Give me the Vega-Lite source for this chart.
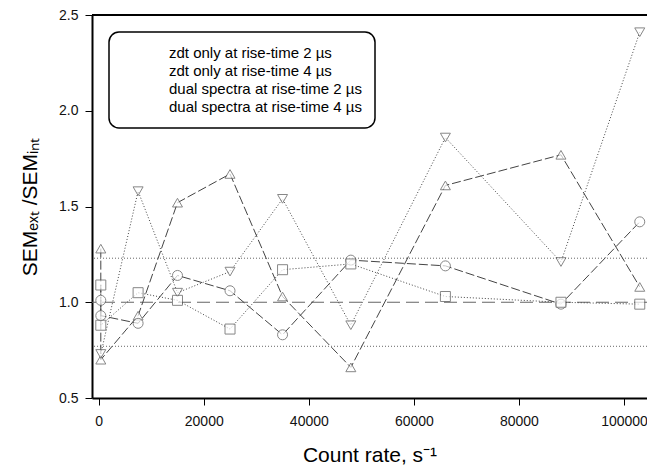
{
  "$schema": "https://vega.github.io/schema/vega-lite/v6.json",
  "width": 555,
  "height": 383,
  "autosize": "none",
  "padding": {"left": 92, "top": 15, "right": 0, "bottom": 75},
  "background": "#ffffff",
  "config": {
    "font": "Liberation Sans",
    "view": {"stroke": null},
    "legend": {"strokeWidth": 1.5},
    "axis": {
      "grid": false,
      "domainColor": "#000",
      "domainWidth": 2,
      "tickColor": "#000",
      "tickWidth": 1,
      "labelFont": "Liberation Sans",
      "labelFontSize": 14,
      "labelColor": "#111",
      "titleFont": "Liberation Sans",
      "titleFontSize": 21,
      "titleFontWeight": "normal",
      "titleColor": "#000"
    }
  },
  "datasets": {
    "series": [
      {"series": "zdt only at rise-time 2 µs", "i": 0, "rate": 400, "ratio": 1.28},
      {"series": "zdt only at rise-time 2 µs", "i": 1, "rate": 400, "ratio": 0.70},
      {"series": "zdt only at rise-time 2 µs", "i": 2, "rate": 7500, "ratio": 0.93},
      {"series": "zdt only at rise-time 2 µs", "i": 3, "rate": 15000, "ratio": 1.52},
      {"series": "zdt only at rise-time 2 µs", "i": 4, "rate": 25000, "ratio": 1.67},
      {"series": "zdt only at rise-time 2 µs", "i": 5, "rate": 35000, "ratio": 1.03},
      {"series": "zdt only at rise-time 2 µs", "i": 6, "rate": 48000, "ratio": 0.66},
      {"series": "zdt only at rise-time 2 µs", "i": 7, "rate": 66000, "ratio": 1.61},
      {"series": "zdt only at rise-time 2 µs", "i": 8, "rate": 88000, "ratio": 1.77},
      {"series": "zdt only at rise-time 2 µs", "i": 9, "rate": 103000, "ratio": 1.08},
      {"series": "zdt only at rise-time 4 µs", "i": 0, "rate": 400, "ratio": 0.73},
      {"series": "zdt only at rise-time 4 µs", "i": 1, "rate": 7500, "ratio": 1.58},
      {"series": "zdt only at rise-time 4 µs", "i": 2, "rate": 15000, "ratio": 1.05},
      {"series": "zdt only at rise-time 4 µs", "i": 3, "rate": 25000, "ratio": 1.16},
      {"series": "zdt only at rise-time 4 µs", "i": 4, "rate": 35000, "ratio": 1.54},
      {"series": "zdt only at rise-time 4 µs", "i": 5, "rate": 48000, "ratio": 0.88},
      {"series": "zdt only at rise-time 4 µs", "i": 6, "rate": 66000, "ratio": 1.86},
      {"series": "zdt only at rise-time 4 µs", "i": 7, "rate": 88000, "ratio": 1.21},
      {"series": "zdt only at rise-time 4 µs", "i": 8, "rate": 103000, "ratio": 2.41},
      {"series": "dual spectra at rise-time 2 µs", "i": 0, "rate": 400, "ratio": 1.01},
      {"series": "dual spectra at rise-time 2 µs", "i": 1, "rate": 400, "ratio": 0.93},
      {"series": "dual spectra at rise-time 2 µs", "i": 2, "rate": 7500, "ratio": 0.89},
      {"series": "dual spectra at rise-time 2 µs", "i": 3, "rate": 15000, "ratio": 1.14},
      {"series": "dual spectra at rise-time 2 µs", "i": 4, "rate": 25000, "ratio": 1.06},
      {"series": "dual spectra at rise-time 2 µs", "i": 5, "rate": 35000, "ratio": 0.83},
      {"series": "dual spectra at rise-time 2 µs", "i": 6, "rate": 48000, "ratio": 1.22},
      {"series": "dual spectra at rise-time 2 µs", "i": 7, "rate": 66000, "ratio": 1.19},
      {"series": "dual spectra at rise-time 2 µs", "i": 8, "rate": 88000, "ratio": 0.99},
      {"series": "dual spectra at rise-time 2 µs", "i": 9, "rate": 103000, "ratio": 1.42},
      {"series": "dual spectra at rise-time 4 µs", "i": 0, "rate": 400, "ratio": 1.09},
      {"series": "dual spectra at rise-time 4 µs", "i": 1, "rate": 400, "ratio": 0.88},
      {"series": "dual spectra at rise-time 4 µs", "i": 2, "rate": 7500, "ratio": 1.05},
      {"series": "dual spectra at rise-time 4 µs", "i": 3, "rate": 15000, "ratio": 1.01},
      {"series": "dual spectra at rise-time 4 µs", "i": 4, "rate": 25000, "ratio": 0.86},
      {"series": "dual spectra at rise-time 4 µs", "i": 5, "rate": 35000, "ratio": 1.17},
      {"series": "dual spectra at rise-time 4 µs", "i": 6, "rate": 48000, "ratio": 1.20},
      {"series": "dual spectra at rise-time 4 µs", "i": 7, "rate": 66000, "ratio": 1.03},
      {"series": "dual spectra at rise-time 4 µs", "i": 8, "rate": 88000, "ratio": 1.00},
      {"series": "dual spectra at rise-time 4 µs", "i": 9, "rate": 103000, "ratio": 0.99}
    ],
    "refs": [
      {"level": 1.0, "kind": "dash"},
      {"level": 1.23, "kind": "dot"},
      {"level": 0.77, "kind": "dot"},
      {"level": 2.5, "kind": "frame"}
    ]
  },
  "layer": [
    {
      "data": {"name": "refs"},
      "transform": [{"filter": "datum.kind === 'dash'"}],
      "mark": {"type": "rule", "color": "#666", "strokeWidth": 1.2, "strokeDash": [13, 6]},
      "encoding": {"y": {"field": "level", "type": "quantitative"}}
    },
    {
      "data": {"name": "refs"},
      "transform": [{"filter": "datum.kind === 'dot'"}],
      "mark": {"type": "rule", "color": "#666", "strokeWidth": 1, "strokeDash": [1, 2]},
      "encoding": {"y": {"field": "level", "type": "quantitative"}}
    },
    {
      "data": {"name": "refs"},
      "transform": [{"filter": "datum.kind === 'frame'"}],
      "mark": {"type": "rule", "color": "#000", "strokeWidth": 2},
      "encoding": {"y": {"field": "level", "type": "quantitative"}}
    },
    {
      "data": {"name": "series"},
      "transform": [{"filter": "indexof(datum.series, '2 µs') >= 0"}],
      "mark": {"type": "line", "color": "#444", "strokeWidth": 1, "strokeDash": [9, 3]},
      "encoding": {
        "x": {"field": "rate", "type": "quantitative"},
        "y": {"field": "ratio", "type": "quantitative"},
        "detail": {"field": "series"},
        "order": {"field": "i", "type": "quantitative"}
      }
    },
    {
      "data": {"name": "series"},
      "transform": [{"filter": "indexof(datum.series, '4 µs') >= 0"}],
      "mark": {"type": "line", "color": "#444", "strokeWidth": 1, "strokeDash": [1, 2]},
      "encoding": {
        "x": {"field": "rate", "type": "quantitative"},
        "y": {"field": "ratio", "type": "quantitative"},
        "detail": {"field": "series"},
        "order": {"field": "i", "type": "quantitative"}
      }
    },
    {
      "data": {"name": "series"},
      "mark": {"type": "point", "fill": "#fff", "stroke": "#555", "strokeWidth": 1, "size": 100},
      "encoding": {
        "x": {
          "field": "rate",
          "type": "quantitative",
          "scale": {"domain": [-1275, 104380], "nice": false, "zero": false},
          "axis": {"values": [0, 20000, 40000, 60000, 80000, 100000], "format": "d", "tickSize": 7, "labelPadding": 9, "title": "Count rate, s⁻¹", "titlePadding": 16}
        },
        "y": {
          "field": "ratio",
          "type": "quantitative",
          "scale": {"domain": [0.5, 2.5], "nice": false, "zero": false},
          "axis": {"values": [0.5, 1.0, 1.5, 2.0, 2.5], "format": ".1f", "tickSize": 7, "labelPadding": 7, "title": "SEMₑₓₜ  /SEMᵢₙₜ", "titlePadding": 18}
        },
        "shape": {
          "field": "series",
          "type": "nominal",
          "scale": {
            "domain": ["zdt only at rise-time 2 µs", "zdt only at rise-time 4 µs", "dual spectra at rise-time 2 µs", "dual spectra at rise-time 4 µs"],
            "range": ["triangle-up", "triangle-down", "circle", "square"]
          },
          "legend": {
            "orient": "none",
            "legendX": 17,
            "legendY": 17,
            "title": null,
            "strokeColor": "#000",
            "cornerRadius": 10,
            "fillColor": "#fff",
            "padding": 13,
            "labelFont": "Liberation Sans",
            "labelFontSize": 15,
            "labelColor": "#000",
            "labelLimit": 400,
            "labelOffset": 16,
            "symbolOffset": 16,
            "rowPadding": 2,
            "symbolSize": 100,
            "symbolStrokeColor": "#444",
            "symbolFillColor": "#fff",
            "symbolStrokeWidth": 1,
            "symbolOpacity": 1,
            "encode": {
              "symbols": {
                "opacity": {"value": 1},
                "fill": {"value": "#fff"},
                "fillOpacity": {"value": 1},
                "stroke": {"value": "#444"},
                "strokeOpacity": {"value": 1},
                "strokeWidth": {"value": 1},
                "size": {"value": 100}
              }
            }
          }
        }
      }
    }
  ]
}
